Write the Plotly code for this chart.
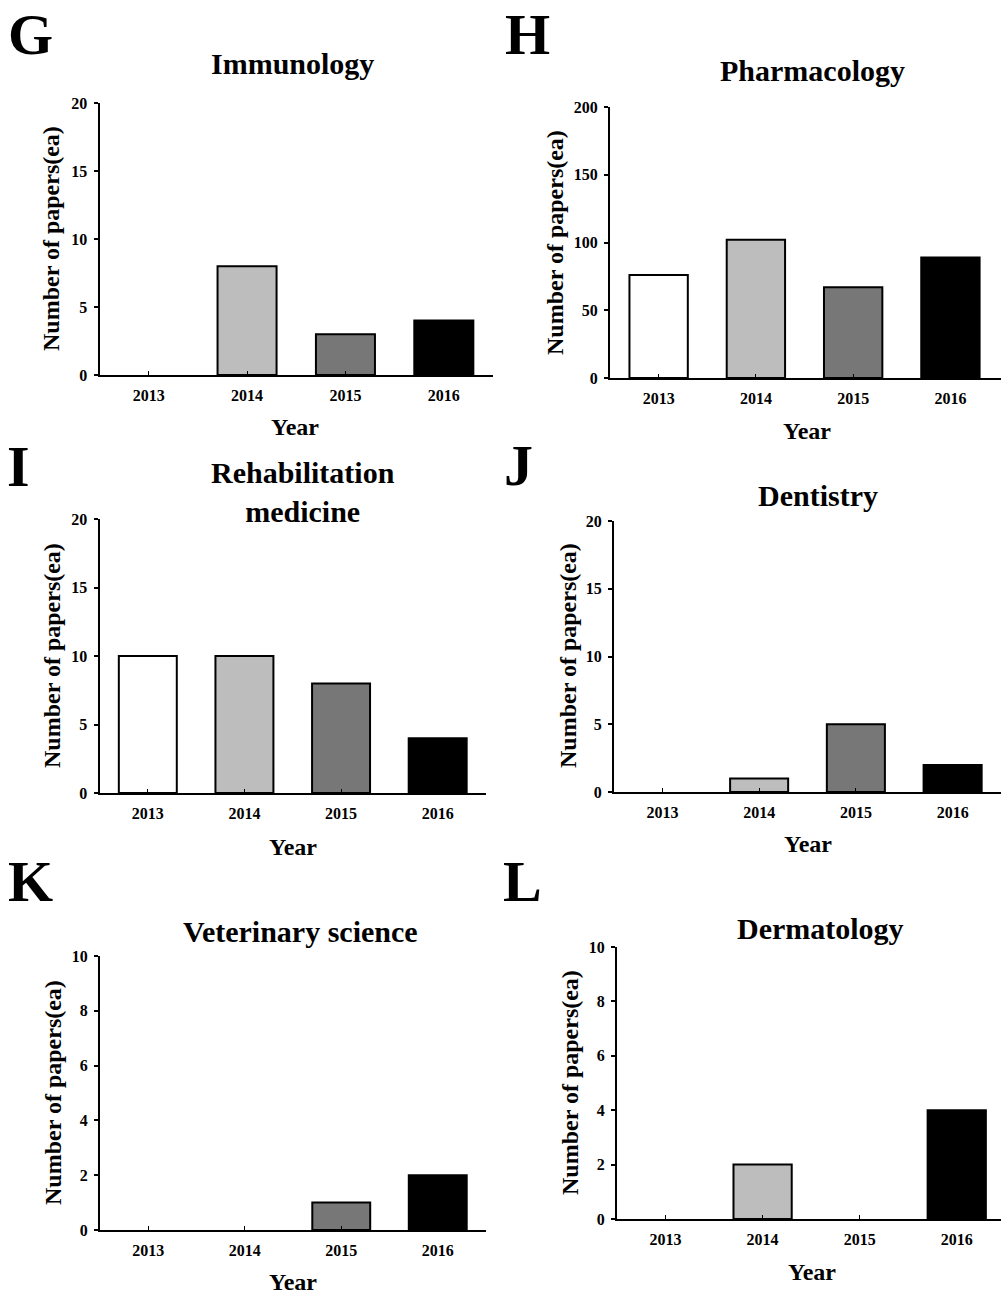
import plotly.graph_objects as go

W, H = 1001, 1296

years = ["2013", "2014", "2015", "2016"]
bar_colors = ["#ffffff", "#bdbdbd", "#777777", "#000000"]

immunology = [0, 8, 3, 4]
pharmacology = [76, 102, 67, 89]
rehabilitation = [10, 10, 8, 4]
dentistry = [0, 1, 5, 2]
veterinary = [0, 0, 1, 2]
dermatology = [0, 2, 0, 4]

panel_letters = ["G", "H", "I", "J", "K", "L"]
panel_titles = ["Immunology", "Pharmacology", "Rehabilitation<br>medicine",
                "Dentistry", "Veterinary science", "Dermatology"]
y_max = [20, 200, 20, 20, 10, 10]
y_dtick = [5, 50, 5, 5, 2, 2]
y_title = "Number of papers(ea)"
x_title = "Year"

series = [immunology, pharmacology, rehabilitation, dentistry, veterinary, dermatology]

# pixel geometry of each plot area: (left, right, top, bottom)
boxes = [
    (99.5, 493, 103, 375),
    (610, 1001, 107, 378),
    (99.5, 486, 519, 793),
    (614, 1001, 521, 792),
    (100, 486, 956, 1230),
    (617, 1001, 947, 1219),
]
x_ranges = [[-0.5, 3.5], [-0.5, 3.52], [-0.5, 3.5], [-0.5, 3.5], [-0.5, 3.5], [-0.5, 3.456]]

# text positions (pixel centres; letters given by top of their text box)
letter_top = [(30, 1), (527, 1), (18, 433), (518, 432), (30, 848), (522, 848)]
title_pos = [(292, 63), (812, 70), (303, 492), (818, 496), (300, 931), (820, 928)]
ytitle_pos = [(51, 239), (555, 243), (52, 656), (568, 656), (53, 1093), (570, 1083)]
xtitle_pos = [(295, 427), (807, 431), (293, 847), (808, 844), (293, 1282), (812, 1272)]

FONT = "Liberation Serif, Times New Roman, serif"

fig = go.Figure()
layout = dict(
    width=W, height=H,
    margin=dict(l=0, r=0, t=0, b=0, autoexpand=False),
    paper_bgcolor="white", plot_bgcolor="white",
    showlegend=False,
    font=dict(family=FONT, color="black"),
    bargap=0.4,
)
annotations = []

for i, vals in enumerate(series):
    n = i + 1
    xa = "x" if n == 1 else f"x{n}"
    ya = "y" if n == 1 else f"y{n}"
    fig.add_trace(go.Bar(
        x=years, y=vals, xaxis=xa, yaxis=ya,
        marker=dict(color=bar_colors,
                    line=dict(color="black", width=[0 if v == 0 else 2 for v in vals])),
        width=0.6,
    ))
    l, r, t, b = boxes[i]
    layout[f"xaxis{n if n > 1 else ''}"] = dict(
        domain=[l / W, r / W], anchor=ya, type="category",
        range=x_ranges[i], showline=True, linecolor="black", linewidth=2,
        ticks="inside", ticklen=4, tickwidth=1, tickcolor="black",
        showgrid=False, zeroline=False, fixedrange=True,
        tickfont=dict(family=FONT, size=16, color="black", weight="bold"),
        ticklabelstandoff=5,
    )
    layout[f"yaxis{n if n > 1 else ''}"] = dict(
        domain=[1 - b / H, 1 - t / H], anchor=xa,
        range=[0, y_max[i]], dtick=y_dtick[i], tick0=0,
        showline=True, linecolor="black", linewidth=2,
        ticks="outside", ticklen=4, tickwidth=2, tickcolor="black",
        showgrid=False, zeroline=False, fixedrange=True,
        tickfont=dict(family=FONT, size=16, color="black", weight="bold"),
        ticklabelstandoff=3,
    )
    lx, ly = letter_top[i]
    annotations.append(dict(text=panel_letters[i], x=lx / W, y=1 - ly / H,
                            xref="paper", yref="paper", showarrow=False,
                            xanchor="center", yanchor="top", borderpad=0,
                            font=dict(family=FONT, size=58, weight="bold", color="black")))
    tx, ty = title_pos[i]
    annotations.append(dict(text=panel_titles[i], x=tx / W, y=1 - ty / H,
                            xref="paper", yref="paper", showarrow=False,
                            xanchor="center", yanchor="middle",
                            font=dict(family=FONT, size=30, weight="bold", color="black")))
    yx, yy = ytitle_pos[i]
    annotations.append(dict(text=y_title, x=yx / W, y=1 - yy / H, textangle=-90,
                            xref="paper", yref="paper", showarrow=False,
                            xanchor="center", yanchor="middle",
                            font=dict(family=FONT, size=24, weight="bold", color="black")))
    xx, xy = xtitle_pos[i]
    annotations.append(dict(text=x_title, x=xx / W, y=1 - xy / H,
                            xref="paper", yref="paper", showarrow=False,
                            xanchor="center", yanchor="middle",
                            font=dict(family=FONT, size=24, weight="bold", color="black")))

layout["annotations"] = annotations
fig.update_layout(**layout)
fig.write_html("out.html", config={"displayModeBar": False},
               post_script="document.body.style.margin='0px';")
